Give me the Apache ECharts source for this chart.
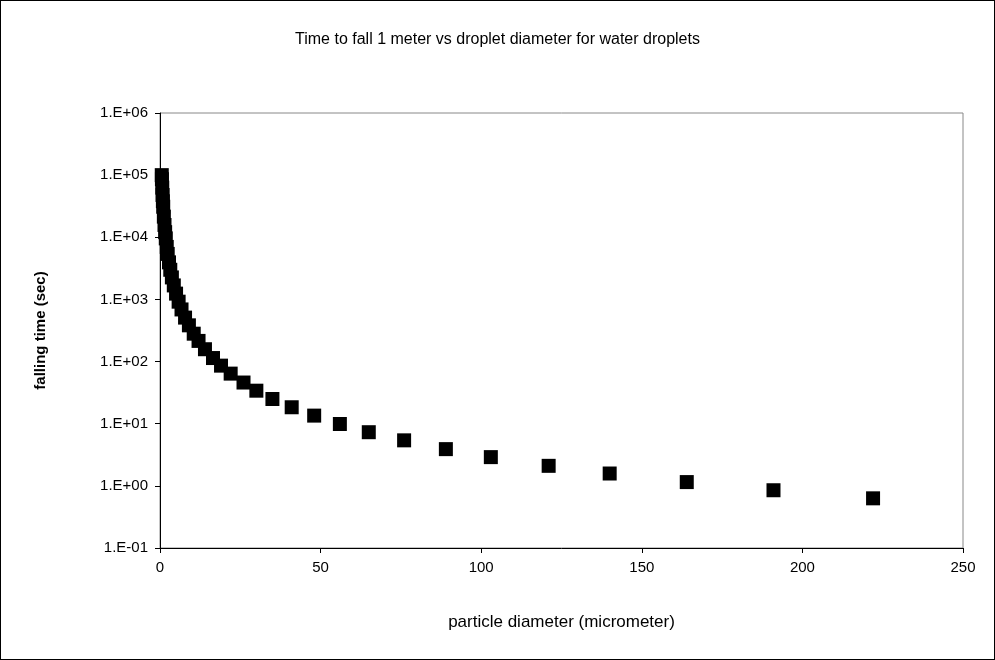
<!DOCTYPE html>
<html><head><meta charset="utf-8">
<script src="https://cdn.jsdelivr.net/npm/echarts@6/dist/echarts.min.js"></script>
<style>html,body{margin:0;background:#fff}#c{width:995px;height:660px;box-sizing:border-box;border:1px solid #000}</style>
</head><body><div id="c"></div>
<script>
let diameters = [0.55,0.6,0.7,0.8,0.9,1.0,1.2,1.4,1.6,1.8,2.1,2.4,2.8,3.2,3.7,4.3,5.0,5.8,6.7,7.8,9,10.5,12,14,16.5,19,22,26,30,35,41,48,56,65,76,89,103,121,140,164,191,222];
let times = [100000,86000,63000,48000,38000,31000,21500,15800,12100,9600,7000,5400,3950,3000,2260,1680,1240,920,690,510,383,281,215,158,114,86,64,46,34,25,18.4,13.5,9.9,7.3,5.4,3.9,2.9,2.1,1.58,1.15,0.85,0.63];

let Chart = echarts.init(document.getElementById("c"));
let font = 'Liberation Sans';
let option = {
    animation: false,
    title: {
        text: 'Time to fall 1 meter vs droplet diameter for water droplets',
        left: 'center', top: 26,
        textStyle: {fontFamily: font, fontSize: 16, fontWeight: 'normal', color: '#000'}
    },
    grid: {left: 159, right: 31, top: 112, bottom: 111, show: true, borderColor: '#888', borderWidth: 1},
    xAxis: {
        type: 'value', min: 0, max: 250, interval: 50,
        name: 'particle diameter (micrometer)', nameLocation: 'middle', nameGap: 66,
        nameTextStyle: {fontFamily: font, fontSize: 17, color: '#000'},
        axisLine: {show: true, lineStyle: {color: '#000'}},
        axisTick: {show: true, inside: false, lineStyle: {color: '#000'}},
        axisLabel: {fontFamily: font, fontSize: 15, color: '#000', margin: 12},
        splitLine: {show: false}
    },
    yAxis: {
        type: 'log', min: 0.1, max: 1000000, logBase: 10,
        name: 'falling time (sec)', nameLocation: 'middle', nameGap: 112,
        nameTextStyle: {fontFamily: font, fontSize: 15, fontWeight: 'bold', color: '#000'},
        axisLine: {show: true, lineStyle: {color: '#000'}},
        axisTick: {show: true, lineStyle: {color: '#000'}},
        axisLabel: {fontFamily: font, fontSize: 15, color: '#000', margin: 12,
            formatter: function (v) { let e = Math.round(Math.log10(v)); return '1.E' + (e < 0 ? '-' : '+') + String(Math.abs(e)).padStart(2, '0'); }},
        splitLine: {show: false}
    },
    series: [{
        type: 'scatter', symbol: 'rect', symbolSize: 14,
        itemStyle: {color: '#000', opacity: 1},
        data: diameters.map((d, i) => [d, times[i]])
    }]
};
Chart.setOption(option);
</script></body></html>
